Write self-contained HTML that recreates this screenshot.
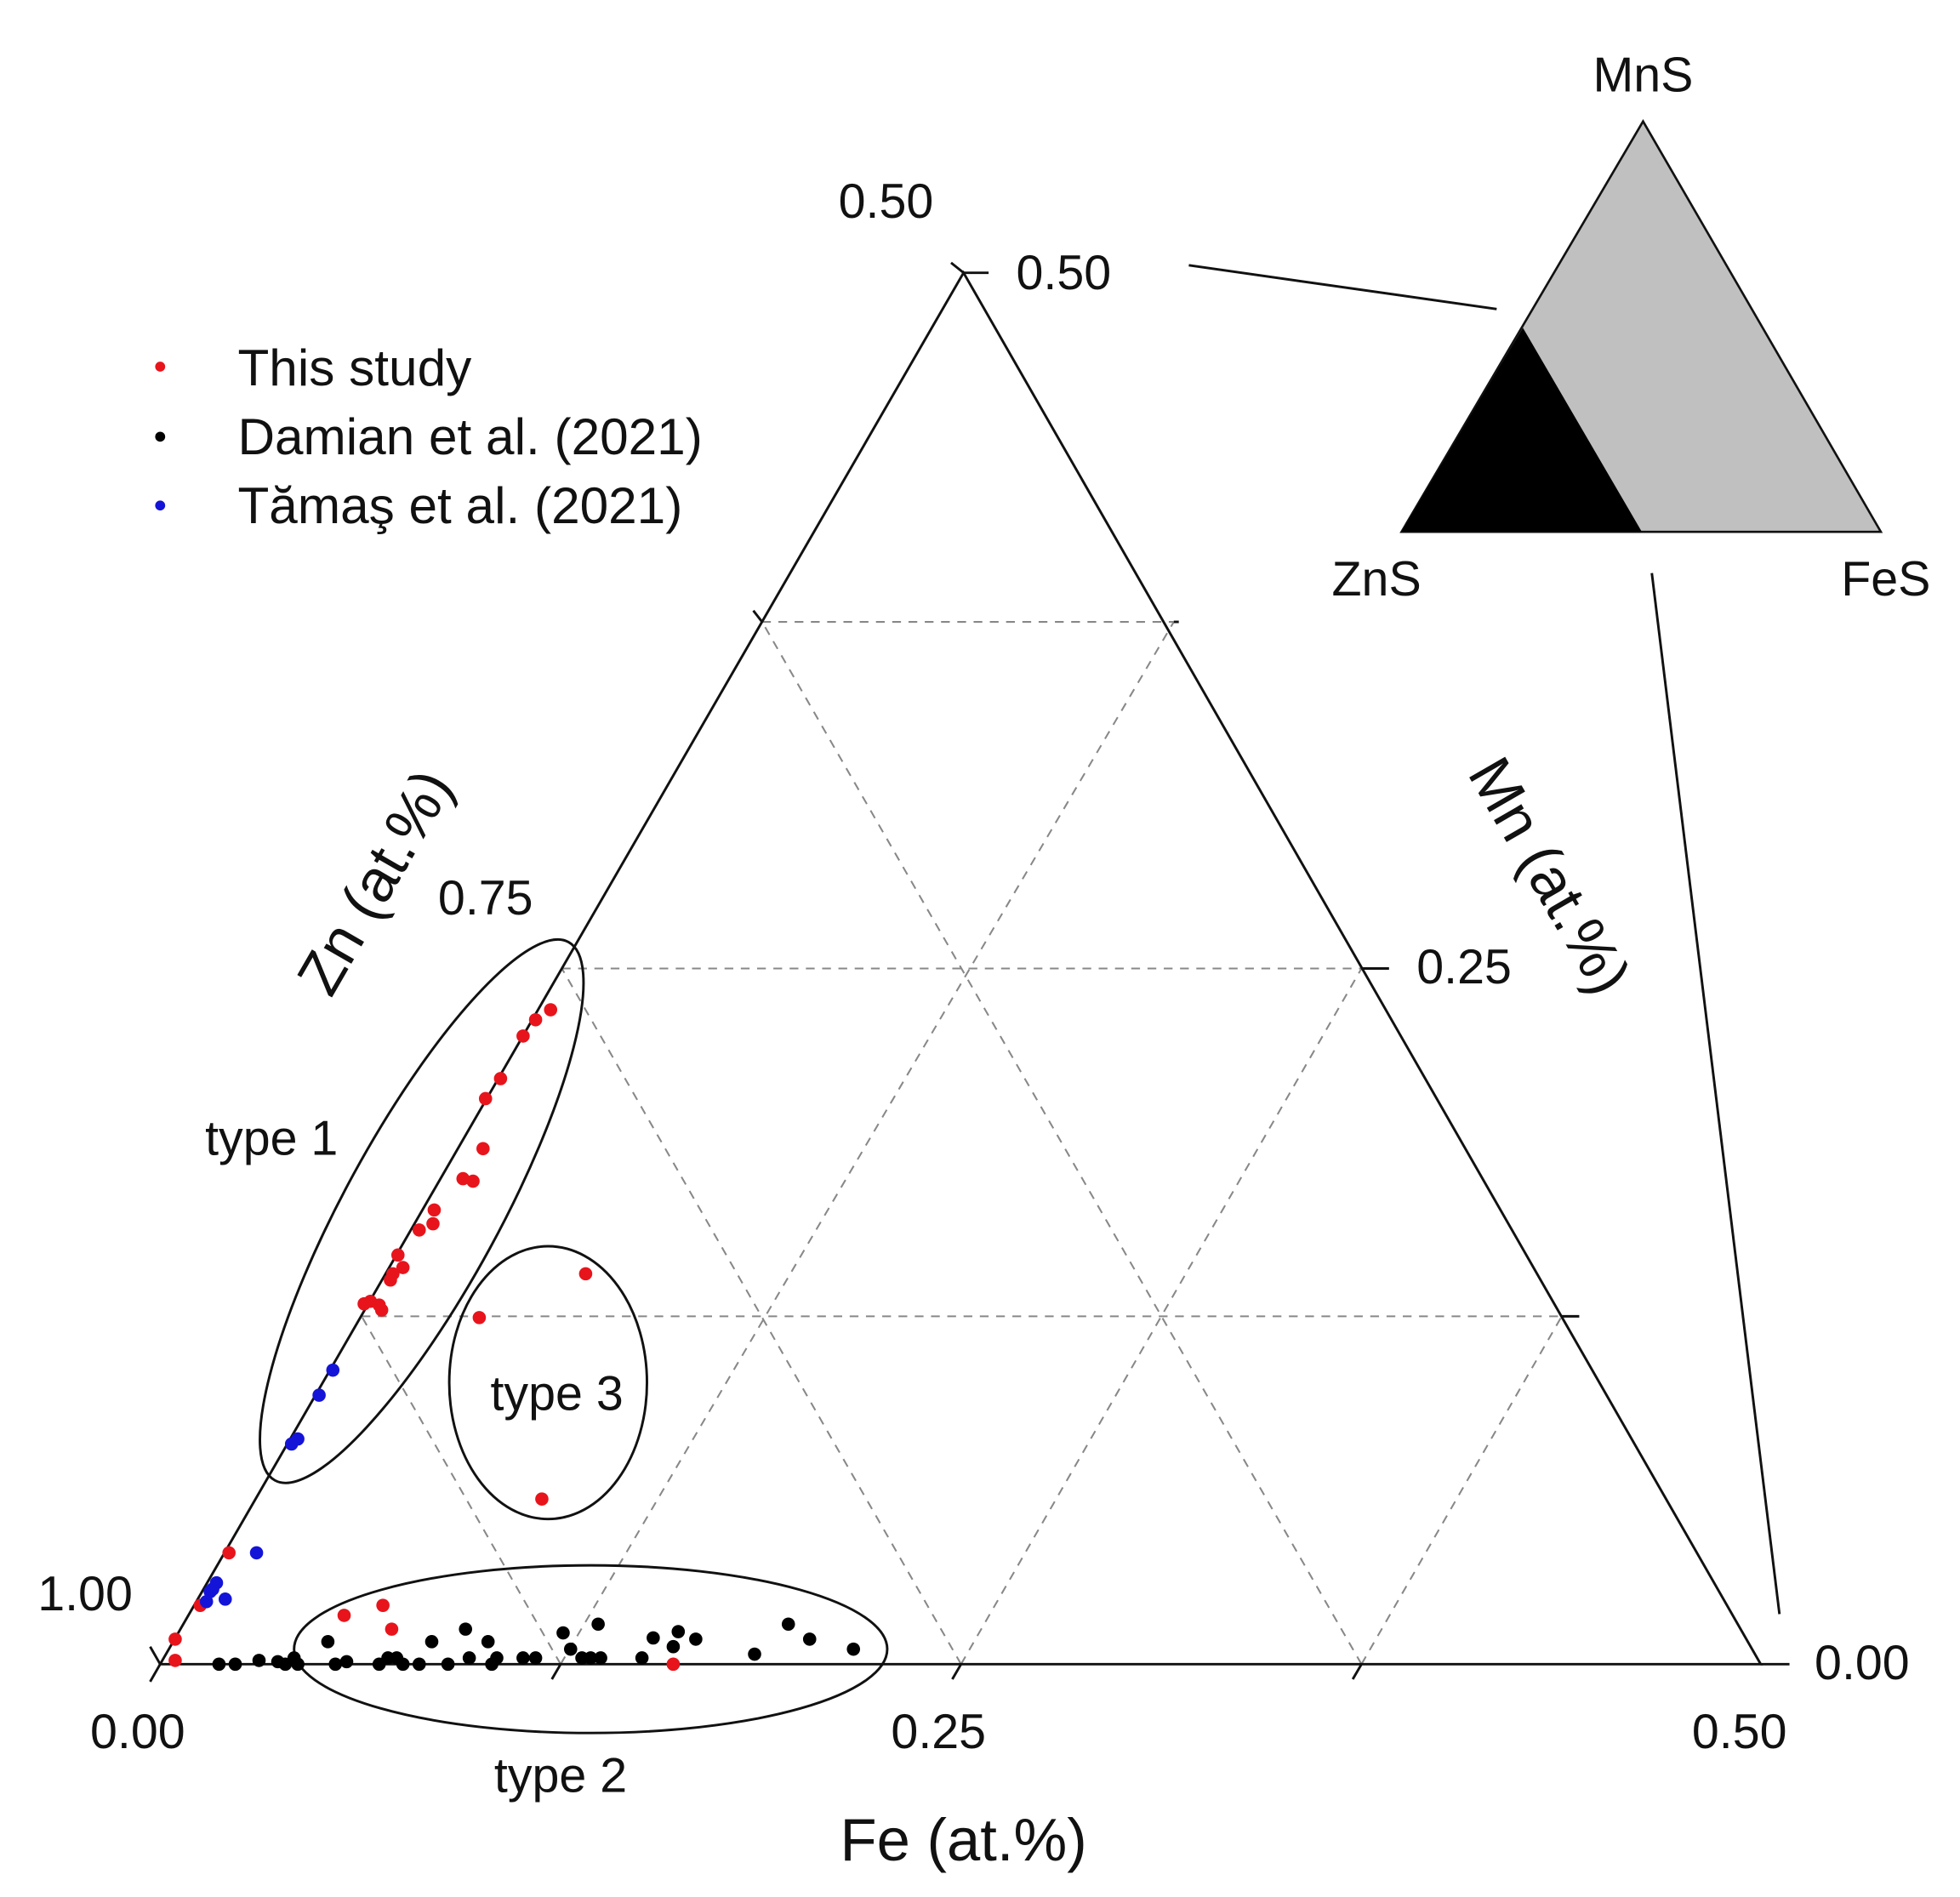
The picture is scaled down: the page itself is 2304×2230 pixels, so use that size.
<!DOCTYPE html>
<html><head><meta charset="utf-8"><style>
html,body{margin:0;padding:0;background:#fff;width:2304px;height:2230px;overflow:hidden}
svg{display:block}
text{font-family:"Liberation Sans",Arial,sans-serif;fill:#111}
</style></head><body>
<svg width="2304" height="2230" viewBox="0 0 1560 1510" preserveAspectRatio="none" xmlns="http://www.w3.org/2000/svg">
<rect width="1560" height="1510" fill="#fff"/>
<g transform="scale(0.996)">
<!-- grid -->
<g stroke="#888" stroke-width="1.4" stroke-dasharray="7,6" fill="none">
<line x1="609" y1="497" x2="938" y2="497"/>
<line x1="449" y1="774" x2="1088" y2="774"/>
<line x1="289" y1="1052" x2="1248" y2="1052"/>
<line x1="448" y1="1330" x2="289" y2="1052"/>
<line x1="768" y1="1330" x2="449" y2="774"/>
<line x1="1088" y1="1330" x2="609" y2="497"/>
<line x1="448" y1="1330" x2="938" y2="497"/>
<line x1="768" y1="1330" x2="1088" y2="774"/>
<line x1="1088" y1="1330" x2="1248" y2="1052"/>
</g>
<!-- main triangle -->
<g stroke="#111" stroke-width="2" fill="none">
<polygon points="128,1330 1407,1330 770,218"/>
<line x1="609" y1="497" x2="602" y2="488"/>
<line x1="938" y1="497" x2="942" y2="497"/>
<line x1="1088" y1="774" x2="1110" y2="774"/>
<line x1="1248" y1="1052" x2="1262" y2="1052"/>
<line x1="770" y1="218" x2="760" y2="210"/>
<line x1="770" y1="218" x2="790" y2="218"/>
<line x1="1407" y1="1330" x2="1430" y2="1330"/>
<line x1="128" y1="1330" x2="120" y2="1316"/>
<line x1="128" y1="1330" x2="120" y2="1344"/>
<line x1="448" y1="1330" x2="441" y2="1342"/>
<line x1="768" y1="1330" x2="761" y2="1342"/>
<line x1="1088" y1="1330" x2="1081" y2="1342"/>
<ellipse cx="337" cy="968" rx="245" ry="62" transform="rotate(-61.4 337 968)"/>
<ellipse cx="438" cy="1105" rx="79" ry="109"/>
<ellipse cx="472" cy="1318" rx="237" ry="67"/>
<line x1="950" y1="212" x2="1196" y2="247"/>
<line x1="1320" y1="458" x2="1422" y2="1290"/>
</g>
<!-- inset -->
<polygon points="1120,425 1503,425 1313,97" fill="#c0c0c0" stroke="#111" stroke-width="1.8"/>
<polygon points="1120,425 1217,262 1312,425" fill="#000"/>
<!-- points -->
<g fill="#000">
<circle cx="175" cy="1330" r="5.3"/><circle cx="188" cy="1330" r="5.3"/><circle cx="207" cy="1327" r="5.3"/><circle cx="222" cy="1328" r="5.3"/><circle cx="228" cy="1330" r="5.3"/><circle cx="235" cy="1325" r="5.3"/><circle cx="238" cy="1330" r="5.3"/><circle cx="262" cy="1312" r="5.3"/><circle cx="268" cy="1330" r="5.3"/><circle cx="277" cy="1328" r="5.3"/><circle cx="303" cy="1330" r="5.3"/><circle cx="310" cy="1325" r="5.3"/><circle cx="317" cy="1325" r="5.3"/><circle cx="322" cy="1330" r="5.3"/><circle cx="335" cy="1330" r="5.3"/><circle cx="345" cy="1312" r="5.3"/><circle cx="358" cy="1330" r="5.3"/><circle cx="372" cy="1302" r="5.3"/><circle cx="375" cy="1325" r="5.3"/><circle cx="390" cy="1312" r="5.3"/><circle cx="393" cy="1330" r="5.3"/><circle cx="397" cy="1325" r="5.3"/><circle cx="418" cy="1325" r="5.3"/><circle cx="428" cy="1325" r="5.3"/><circle cx="450" cy="1305" r="5.3"/><circle cx="456" cy="1318" r="5.3"/><circle cx="465" cy="1325" r="5.3"/><circle cx="472" cy="1325" r="5.3"/><circle cx="478" cy="1298" r="5.3"/><circle cx="480" cy="1325" r="5.3"/><circle cx="513" cy="1325" r="5.3"/><circle cx="522" cy="1309" r="5.3"/><circle cx="538" cy="1316" r="5.3"/><circle cx="542" cy="1304" r="5.3"/><circle cx="556" cy="1310" r="5.3"/><circle cx="603" cy="1322" r="5.3"/><circle cx="630" cy="1298" r="5.3"/><circle cx="647" cy="1310" r="5.3"/><circle cx="682" cy="1318" r="5.3"/>
</g>
<g fill="#e8141c">
<circle cx="440" cy="807" r="5.3"/><circle cx="428" cy="815" r="5.3"/><circle cx="418" cy="828" r="5.3"/><circle cx="400" cy="862" r="5.3"/><circle cx="388" cy="878" r="5.3"/><circle cx="386" cy="918" r="5.3"/><circle cx="370" cy="942" r="5.3"/><circle cx="378" cy="944" r="5.3"/><circle cx="347" cy="967" r="5.3"/><circle cx="346" cy="978" r="5.3"/><circle cx="335" cy="983" r="5.3"/><circle cx="318" cy="1003" r="5.3"/><circle cx="322" cy="1013" r="5.3"/><circle cx="314" cy="1018" r="5.3"/><circle cx="312" cy="1023" r="5.3"/><circle cx="296" cy="1040" r="5.3"/><circle cx="303" cy="1043" r="5.3"/><circle cx="291" cy="1042" r="5.3"/><circle cx="305" cy="1047" r="5.3"/><circle cx="468" cy="1018" r="5.3"/><circle cx="383" cy="1053" r="5.3"/><circle cx="433" cy="1198" r="5.3"/><circle cx="183" cy="1241" r="5.3"/><circle cx="160" cy="1283" r="5.3"/><circle cx="140" cy="1310" r="5.3"/><circle cx="140" cy="1327" r="5.3"/><circle cx="275" cy="1291" r="5.3"/><circle cx="306" cy="1283" r="5.3"/><circle cx="313" cy="1302" r="5.3"/><circle cx="538" cy="1330" r="5.3"/>
<circle cx="128" cy="293" r="4"/>
</g>
<g fill="#1414d8">
<circle cx="266" cy="1095" r="5.3"/><circle cx="255" cy="1115" r="5.3"/><circle cx="238" cy="1150" r="5.3"/><circle cx="233" cy="1154" r="5.3"/><circle cx="205" cy="1241" r="5.3"/><circle cx="173" cy="1265" r="5.3"/><circle cx="168" cy="1272" r="5.3"/><circle cx="165" cy="1280" r="5.3"/><circle cx="180" cy="1278" r="5.3"/><circle cx="170" cy="1270" r="5.3"/>
<circle cx="128" cy="404" r="4"/>
</g>
<circle cx="128" cy="349" r="4" fill="#000"/>
<!-- labels -->
<g font-size="41">
<text x="190" y="308">This study</text>
<text x="190" y="363">Damian et al. (2021)</text>
<text x="190" y="418">Tămaş et al. (2021)</text>
</g>
<g font-size="39">
<text x="1313" y="73" text-anchor="middle">MnS</text>
<text x="1100" y="476" text-anchor="middle">ZnS</text>
<text x="1507" y="476" text-anchor="middle">FeS</text>
<text x="708" y="174" text-anchor="middle">0.50</text>
<text x="850" y="231" text-anchor="middle">0.50</text>
<text x="388" y="731" text-anchor="middle">0.75</text>
<text x="68" y="1287" text-anchor="middle">1.00</text>
<text x="110" y="1397" text-anchor="middle">0.00</text>
<text x="750" y="1397" text-anchor="middle">0.25</text>
<text x="1390" y="1397" text-anchor="middle">0.50</text>
<text x="1488" y="1342" text-anchor="middle">0.00</text>
<text x="1170" y="786" text-anchor="middle">0.25</text>
<text x="217" y="923" text-anchor="middle">type 1</text>
<text x="445" y="1127" text-anchor="middle">type 3</text>
<text x="448" y="1432" text-anchor="middle">type 2</text>
</g>
<g font-size="48">
<text x="770" y="1487" text-anchor="middle">Fe (at.%)</text>
<text x="0" y="0" text-anchor="middle" transform="translate(300,705) rotate(-60) translate(0,16)">Zn (at.%)</text>
<text x="0" y="0" text-anchor="middle" transform="translate(1238,700) rotate(60) translate(0,16)">Mn (at.%)</text>
</g>
</g>
</svg>
</body></html>
